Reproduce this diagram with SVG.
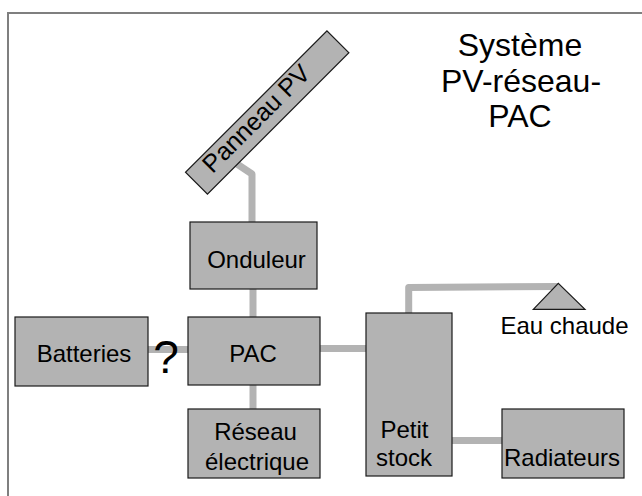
<svg xmlns="http://www.w3.org/2000/svg" width="642" height="496" viewBox="0 0 642 496">
<style>
.box{fill:#b3b3b3;stroke:#1a1a1a;stroke-width:1.2}
.lbl{font-family:"Liberation Sans",Arial,sans-serif;font-size:24px;fill:#000;text-anchor:middle}
.ttl{font-size:32px}
.pipe{fill:none;stroke:#b3b3b3;stroke-width:7;stroke-linejoin:round}
</style>
<rect width="642" height="496" fill="#fff"/>
<g id="frame" fill="none" stroke="#7f7f7f" stroke-width="2">
<polyline points="8,496 8,13 642,13"/>
</g>
<g id="title">
<text class="lbl ttl" x="520" y="56">Système</text>
<text class="lbl ttl" x="521" y="92">PV-réseau-</text>
<text class="lbl ttl" x="520" y="127">PAC</text>
</g>
<g id="connectors">
<polyline class="pipe" points="234,162 252,174 252,222"/>
<line class="pipe" x1="253" y1="289" x2="253" y2="317"/>
<line class="pipe" x1="253" y1="385" x2="253" y2="409"/>
<line class="pipe" x1="148" y1="349.5" x2="188" y2="349.5"/>
<line class="pipe" x1="320" y1="348.5" x2="366" y2="348.5"/>
<line class="pipe" x1="452" y1="440.5" x2="502" y2="440.5"/>
<polyline class="pipe" points="408.7,313 408.7,287.5 558,286.5"/>
</g>
<g id="panneau">
<rect class="box" x="-100" y="-15.5" width="200" height="31" transform="translate(267.2,112.5) rotate(-45)"/>
<text class="lbl" style="font-size:25px" x="-12" y="5" transform="translate(267.2,112.5) rotate(-45)">Panneau PV</text>
</g>
<g id="onduleur">
<rect class="box" x="190" y="222" width="127" height="67"/>
<text class="lbl" x="256.5" y="268">Onduleur</text>
</g>
<g id="pac">
<rect class="box" x="188" y="317" width="132" height="68"/>
<text class="lbl" x="253" y="361.5">PAC</text>
</g>
<g id="batteries">
<rect class="box" x="15" y="317" width="133" height="69"/>
<text class="lbl" x="84" y="361.5">Batteries</text>
</g>
<g id="question">
<text class="lbl" style="font-size:46px" x="166" y="373">?</text>
</g>
<g id="reseau">
<rect class="box" x="188" y="409" width="132" height="69"/>
<text class="lbl" x="255.5" y="439.5">Réseau</text>
<text class="lbl" x="257" y="469.5">électrique</text>
</g>
<g id="stock">
<rect class="box" x="366" y="313" width="86" height="163"/>
<text class="lbl" x="404.5" y="438">Petit</text>
<text class="lbl" x="404" y="465.5">stock</text>
</g>
<g id="radiateurs">
<rect class="box" x="502" y="409" width="122" height="69"/>
<text class="lbl" x="562" y="465.5">Radiateurs</text>
</g>
<g id="eau">
<polygon class="box" points="533.3,309.3 558.3,283.3 585,309.3"/>
<text class="lbl" x="564.5" y="333.5">Eau chaude</text>
</g>
</svg>
